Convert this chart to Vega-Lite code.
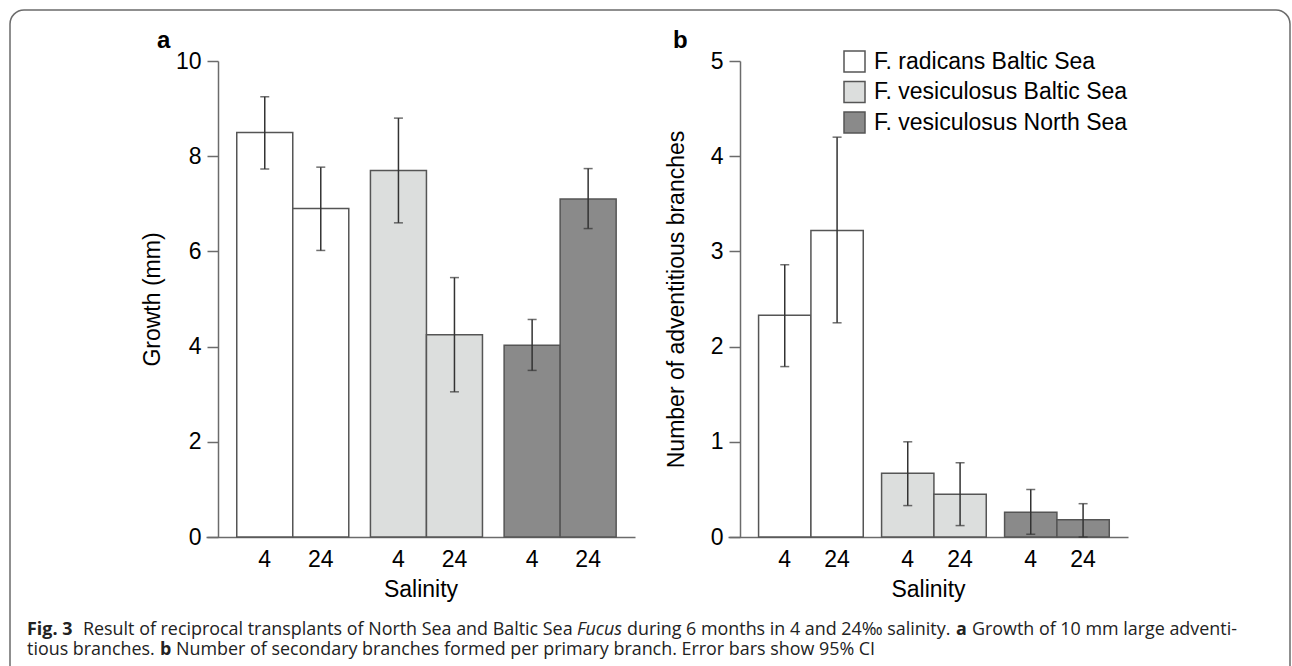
{
  "$schema": "https://vega.github.io/schema/vega-lite/v6.json",
  "autosize": {"type": "none"},
  "width": 1280,
  "height": 680,
  "padding": {"left": 10, "top": 10, "right": 2, "bottom": 0},
  "background": "white",
  "config": {
    "view": {"stroke": "#6b6b6b", "strokeWidth": 1.5, "cornerRadius": 14},
    "font": "Liberation Sans",
    "axis": {
      "labelFont": "Liberation Sans", "titleFont": "Liberation Sans",
      "labelFontSize": 23, "titleFontSize": 23, "titleFontWeight": "normal",
      "labelColor": "#000", "titleColor": "#000",
      "domainColor": "#6b6b6b", "tickColor": "#6b6b6b",
      "domainWidth": 1.5, "tickWidth": 1.5, "grid": false
    }
  },
  "datasets": {
    "growth": [
      {"species": "F. radicans Baltic Sea", "salinity": "4", "mean": 8.5, "lo": 7.73, "hi": 9.25},
      {"species": "F. radicans Baltic Sea", "salinity": "24", "mean": 6.9, "lo": 6.02, "hi": 7.77},
      {"species": "F. vesiculosus Baltic Sea", "salinity": "4", "mean": 7.7, "lo": 6.6, "hi": 8.8},
      {"species": "F. vesiculosus Baltic Sea", "salinity": "24", "mean": 4.25, "lo": 3.05, "hi": 5.45},
      {"species": "F. vesiculosus North Sea", "salinity": "4", "mean": 4.03, "lo": 3.5, "hi": 4.57},
      {"species": "F. vesiculosus North Sea", "salinity": "24", "mean": 7.1, "lo": 6.48, "hi": 7.74}
    ],
    "branches": [
      {"species": "F. radicans Baltic Sea", "salinity": "4", "mean": 2.33, "lo": 1.79, "hi": 2.86},
      {"species": "F. radicans Baltic Sea", "salinity": "24", "mean": 3.22, "lo": 2.25, "hi": 4.2},
      {"species": "F. vesiculosus Baltic Sea", "salinity": "4", "mean": 0.67, "lo": 0.33, "hi": 1.0},
      {"species": "F. vesiculosus Baltic Sea", "salinity": "24", "mean": 0.45, "lo": 0.12, "hi": 0.78},
      {"species": "F. vesiculosus North Sea", "salinity": "4", "mean": 0.26, "lo": 0.03, "hi": 0.5},
      {"species": "F. vesiculosus North Sea", "salinity": "24", "mean": 0.18, "lo": 0.0, "hi": 0.35}
    ],
    "caption": [
      {"seg": 1, "t": "Fig. 3"},
      {"seg": 2, "t": "Result of reciprocal transplants of North Sea and Baltic Sea"},
      {"seg": 3, "t": "Fucus"},
      {"seg": 4, "t": "during 6 months in 4 and 24‰ salinity."},
      {"seg": 5, "t": "a"},
      {"seg": 6, "t": "Growth of 10 mm large adventi-"},
      {"seg": 7, "t": "tious branches."},
      {"seg": 8, "t": "b"},
      {"seg": 9, "t": "Number of secondary branches formed per primary branch. Error bars show 95% CI"}
    ]
  },
  "layer": [
    {
      "data": {"name": "growth"},
      "encoding": {
        "x": {
          "field": "species", "type": "nominal",
          "sort": ["F. radicans Baltic Sea", "F. vesiculosus Baltic Sea", "F. vesiculosus North Sea"],
          "scale": {"range": [196, 625], "paddingInner": 0.162, "paddingOuter": 0.1855, "align": 0.62},
          "axis": {"orient": "bottom", "offset": -153, "labels": false, "ticks": false, "title": "Salinity", "titlePadding": 41}
        },
        "xOffset": {"field": "salinity", "type": "nominal", "sort": ["4", "24"], "scale": {"paddingInner": 0, "paddingOuter": 0}}
      },
      "layer": [
        {
          "mark": {"type": "bar", "stroke": "#555555", "strokeWidth": 1.5},
          "encoding": {
            "y": {
              "field": "mean", "type": "quantitative", "title": "Growth (mm)",
              "scale": {"domain": [0, 10], "range": [527, 51], "nice": false},
              "axis": {"orient": "left", "offset": -208, "values": [0, 2, 4, 6, 8, 10], "format": "d", "tickSize": 11, "labelPadding": 6, "titlePadding": 11}
            },
            "fill": {
              "field": "species", "type": "nominal",
              "scale": {"domain": ["F. radicans Baltic Sea", "F. vesiculosus Baltic Sea", "F. vesiculosus North Sea"], "range": ["#ffffff", "#dcdedd", "#8a8a8a"]},
              "legend": null
            }
          }
        },
        {
          "mark": {"type": "rule", "color": "#333333", "strokeWidth": 1.5},
          "encoding": {"y": {"field": "lo", "type": "quantitative", "title": "Growth (mm)"}, "y2": {"field": "hi"}}
        },
        {
          "mark": {"type": "tick", "color": "#333333", "thickness": 1.5, "size": 9},
          "encoding": {"y": {"field": "lo", "type": "quantitative", "title": "Growth (mm)"}}
        },
        {
          "mark": {"type": "tick", "color": "#333333", "thickness": 1.5, "size": 9},
          "encoding": {"y": {"field": "hi", "type": "quantitative", "title": "Growth (mm)"}}
        },
        {
          "mark": {"type": "text", "fontSize": 23, "font": "Liberation Sans", "baseline": "alphabetic", "dy": 30, "color": "#000"},
          "encoding": {"y": {"datum": 0, "type": "quantitative", "title": "Growth (mm)"}, "text": {"field": "salinity"}}
        }
      ]
    },
    {
      "data": {"name": "branches"},
      "encoding": {
        "x": {
          "field": "species", "type": "nominal",
          "sort": ["F. radicans Baltic Sea", "F. vesiculosus Baltic Sea", "F. vesiculosus North Sea"],
          "scale": {"range": [718, 1118], "paddingInner": 0.149, "paddingOuter": 0.2005, "align": 0.62},
          "axis": {"orient": "bottom", "offset": -153, "labels": false, "ticks": false, "title": "Salinity", "titlePadding": 41}
        },
        "xOffset": {"field": "salinity", "type": "nominal", "sort": ["4", "24"], "scale": {"paddingInner": 0, "paddingOuter": 0}}
      },
      "layer": [
        {
          "mark": {"type": "bar", "stroke": "#555555", "strokeWidth": 1.5},
          "encoding": {
            "y": {
              "field": "mean", "type": "quantitative", "title": "Number of adventitious branches",
              "scale": {"domain": [0, 5], "range": [527, 51], "nice": false},
              "axis": {"orient": "left", "offset": -730, "values": [0, 1, 2, 3, 4, 5], "format": "d", "tickSize": 11, "labelPadding": 6, "titlePadding": 22}
            },
            "fill": {
              "field": "species", "type": "nominal", "title": null,
              "scale": {"domain": ["F. radicans Baltic Sea", "F. vesiculosus Baltic Sea", "F. vesiculosus North Sea"], "range": ["#ffffff", "#dcdedd", "#8a8a8a"]},
              "legend": {
                "orient": "none", "legendX": 833, "legendY": 40, "title": null,
                "symbolType": "square", "symbolSize": 441, "symbolStrokeColor": "#555555", "symbolStrokeWidth": 1.5, "symbolOpacity": 1,
                "labelFont": "Liberation Sans", "labelFontSize": 23, "labelColor": "#000", "labelOffset": 8, "rowPadding": 3.5, "labelLimit": 400
              }
            }
          }
        },
        {
          "mark": {"type": "rule", "color": "#333333", "strokeWidth": 1.5},
          "encoding": {"y": {"field": "lo", "type": "quantitative", "title": "Number of adventitious branches"}, "y2": {"field": "hi"}}
        },
        {
          "mark": {"type": "tick", "color": "#333333", "thickness": 1.5, "size": 9},
          "encoding": {"y": {"field": "lo", "type": "quantitative", "title": "Number of adventitious branches"}}
        },
        {
          "mark": {"type": "tick", "color": "#333333", "thickness": 1.5, "size": 9},
          "encoding": {"y": {"field": "hi", "type": "quantitative", "title": "Number of adventitious branches"}}
        },
        {
          "mark": {"type": "text", "fontSize": 23, "font": "Liberation Sans", "baseline": "alphabetic", "dy": 30, "color": "#000"},
          "encoding": {"y": {"datum": 0, "type": "quantitative", "title": "Number of adventitious branches"}, "text": {"field": "salinity"}}
        }
      ]
    },
    {
      "data": {"values": [{"t": "a"}]},
      "mark": {"type": "text", "font": "Liberation Sans", "fontWeight": "bold", "fontSize": 24, "align": "left", "baseline": "alphabetic", "x": 147, "y": 38, "color": "#000"},
      "encoding": {"text": {"field": "t"}}
    },
    {
      "data": {"values": [{"t": "b"}]},
      "mark": {"type": "text", "font": "Liberation Sans", "fontWeight": "bold", "fontSize": 24, "align": "left", "baseline": "alphabetic", "x": 663, "y": 38, "color": "#000"},
      "encoding": {"text": {"field": "t"}}
    },
    {
      "data": {"name": "caption"},
      "transform": [{"filter": "datum.seg == 1"}],
      "mark": {"type": "text", "font": "Open Sans", "fontWeight": "bold", "fontSize": 17.9, "align": "left", "baseline": "alphabetic", "x": 17, "y": 625, "color": "#222"},
      "encoding": {"text": {"field": "t"}}
    },
    {
      "data": {"name": "caption"},
      "transform": [{"filter": "datum.seg == 2"}],
      "mark": {"type": "text", "font": "Open Sans", "fontSize": 17.9, "align": "left", "baseline": "alphabetic", "x": 73, "y": 625, "color": "#222"},
      "encoding": {"text": {"field": "t"}}
    },
    {
      "data": {"name": "caption"},
      "transform": [{"filter": "datum.seg == 3"}],
      "mark": {"type": "text", "font": "Open Sans", "fontStyle": "italic", "fontSize": 17.9, "align": "left", "baseline": "alphabetic", "x": 567, "y": 625, "color": "#222"},
      "encoding": {"text": {"field": "t"}}
    },
    {
      "data": {"name": "caption"},
      "transform": [{"filter": "datum.seg == 4"}],
      "mark": {"type": "text", "font": "Open Sans", "fontSize": 17.9, "align": "left", "baseline": "alphabetic", "x": 617, "y": 625, "color": "#222"},
      "encoding": {"text": {"field": "t"}}
    },
    {
      "data": {"name": "caption"},
      "transform": [{"filter": "datum.seg == 5"}],
      "mark": {"type": "text", "font": "Open Sans", "fontWeight": "bold", "fontSize": 17.9, "align": "left", "baseline": "alphabetic", "x": 946, "y": 625, "color": "#222"},
      "encoding": {"text": {"field": "t"}}
    },
    {
      "data": {"name": "caption"},
      "transform": [{"filter": "datum.seg == 6"}],
      "mark": {"type": "text", "font": "Open Sans", "fontSize": 17.9, "align": "left", "baseline": "alphabetic", "x": 962, "y": 625, "color": "#222"},
      "encoding": {"text": {"field": "t"}}
    },
    {
      "data": {"name": "caption"},
      "transform": [{"filter": "datum.seg == 7"}],
      "mark": {"type": "text", "font": "Open Sans", "fontSize": 17.9, "align": "left", "baseline": "alphabetic", "x": 17, "y": 645, "color": "#222"},
      "encoding": {"text": {"field": "t"}}
    },
    {
      "data": {"name": "caption"},
      "transform": [{"filter": "datum.seg == 8"}],
      "mark": {"type": "text", "font": "Open Sans", "fontWeight": "bold", "fontSize": 17.9, "align": "left", "baseline": "alphabetic", "x": 150, "y": 645, "color": "#222"},
      "encoding": {"text": {"field": "t"}}
    },
    {
      "data": {"name": "caption"},
      "transform": [{"filter": "datum.seg == 9"}],
      "mark": {"type": "text", "font": "Open Sans", "fontSize": 17.9, "align": "left", "baseline": "alphabetic", "x": 166, "y": 645, "color": "#222"},
      "encoding": {"text": {"field": "t"}}
    }
  ],
  "resolve": {
    "scale": {"x": "independent", "y": "independent", "xOffset": "independent", "fill": "independent"},
    "axis": {"x": "independent", "y": "independent"},
    "legend": {"fill": "independent"}
  }
}
